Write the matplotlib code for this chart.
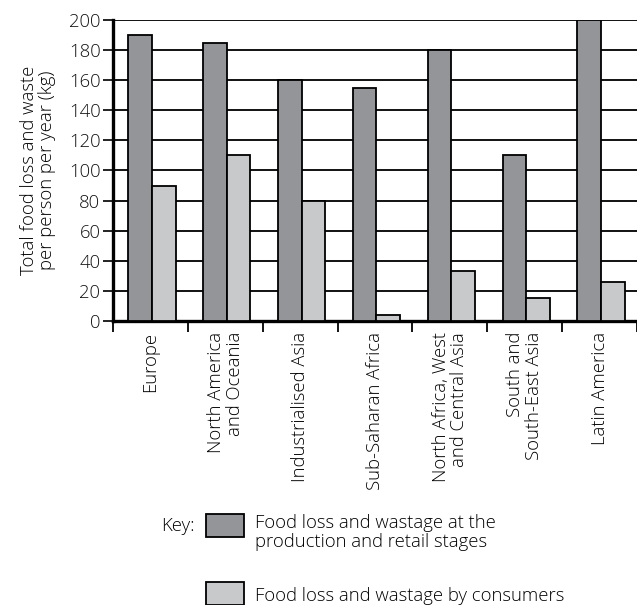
import matplotlib
matplotlib.use("Agg")
import matplotlib.pyplot as plt
from matplotlib.patches import Rectangle
import numpy as np

plt.rcParams['font.family'] = ['Open Sans', 'DejaVu Sans']

categories = ["Europe", "North America\nand Oceania", "Industrialised Asia",
              "Sub-Saharan Africa", "North Africa, West\nand Central Asia",
              "South and\nSouth-East Asia", "Latin America"]
production_retail = [190, 185, 160, 155, 180, 110, 200]
consumers = [90, 110, 80, 4, 33, 15, 26]
yticks = [0, 20, 40, 60, 80, 100, 120, 140, 160, 180, 200]
ylabel = "Total food loss and waste\nper person per year (kg)"
legend_labels = ["Food loss and wastage at the\nproduction and retail stages",
                 "Food loss and wastage by consumers"]

FS = 13.3
dark = "#939598"
light = "#c8c9cb"
W, H = 637, 605
fig = plt.figure(figsize=(W/100, H/100), dpi=100)
ax = fig.add_axes([113/W, 1-321/H, 1-113/W, 301/H])

x = np.arange(len(categories))
bw = 0.315
ax.bar(x - bw/2 + 0.02, production_retail, bw, color=dark, edgecolor="black", linewidth=1.3, zorder=3)
ax.bar(x + bw/2 + 0.02, consumers, bw, color=light, edgecolor="black", linewidth=1.3, zorder=3)

ax.set_ylim(0, 200)
ax.set_xlim(-0.5, -0.5 + (W-113)/76.3)
ax.set_yticks(yticks)
ax.set_yticklabels([str(v) for v in yticks], fontsize=FS, fontweight='light')
ax.yaxis.grid(True, color="#111111", linewidth=1.4, zorder=0)
ax.set_axisbelow(True)
for s in ["top", "right"]:
    ax.spines[s].set_visible(False)
ax.spines["left"].set_linewidth(2.4)
ax.spines["bottom"].set_linewidth(2.4)
ax.tick_params(axis="y", length=7, width=1.3, pad=2, colors="#111111")

ax.set_xticks(np.arange(-0.5, len(categories), 1.0))
ax.set_xticklabels([])
ax.tick_params(axis="x", length=8, width=1.3, direction="out")
ax.set_xticks(x, minor=True)
ax.set_xticklabels(categories, minor=True, rotation=90, fontsize=FS,
                   fontweight='light', ha="center", va="top", multialignment="right",
                   linespacing=1.05)
ax.tick_params(axis="x", which="minor", length=0, pad=8)

ax.set_ylabel(ylabel, fontsize=FS, fontweight='light', labelpad=9, linespacing=1.05)

# Key
fig.text(195/W, 1-526/H, "Key:", fontsize=FS, fontweight='light', ha="right", va="center")
for top, col in [(514, dark), (582, light)]:
    fig.patches.append(Rectangle((206/W, 1-(top+23)/H), 38/W, 23/H, transform=fig.transFigure,
                                 facecolor=col, edgecolor="black", linewidth=1.3))
fig.text(255/W, 1-514/H, legend_labels[0], fontsize=FS, fontweight='light',
         ha="left", va="top", linespacing=1.05)
fig.text(255/W, 1-596/H, legend_labels[1], fontsize=FS, fontweight='light',
         ha="left", va="center")

fig.savefig("out.png", dpi=100)
